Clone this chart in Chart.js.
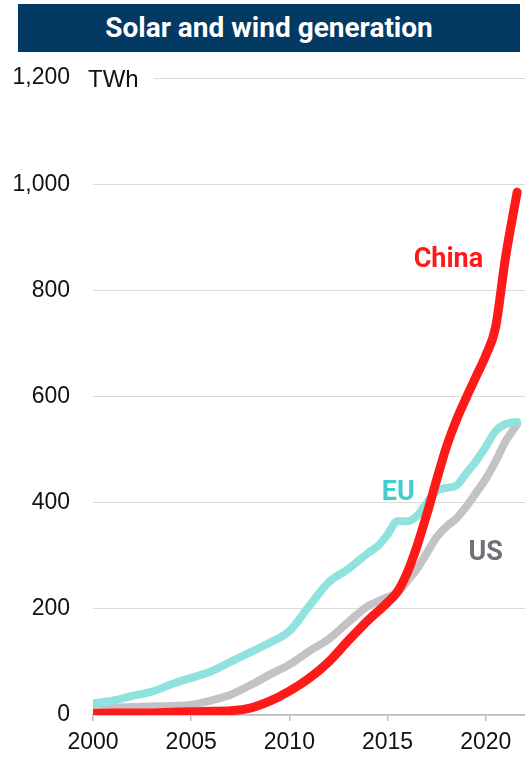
<!DOCTYPE html>
<html>
<head>
<meta charset="utf-8">
<script src="https://cdn.jsdelivr.net/npm/chart.js@4.4.0/dist/chart.umd.min.js"></script>
<style>
body{margin:0;background:#fff;width:525px;height:760px;overflow:hidden;position:relative}
#titulo{position:absolute;left:18px;top:4px;width:502px;height:48px;background:#023a64;color:#fff;font:bold 28px Roboto,sans-serif;text-align:center;line-height:48px}
#caixa{position:absolute;left:0;top:0;width:525px;height:760px}
</style>
</head>
<body>
<div id="caixa"><canvas id="myChart"></canvas></div>
<div id="titulo">Solar and wind generation</div>
<script>
// TWh, solar + wind
var anos  = [2000,2001,2002,2003,2004,2005,2006,2007,2008,2009,2010,2011,2012,2013,2014,2014.5,2015,2015.5,2016,2016.5,2017,2017.5,2018,2018.5,2019,2019.5,2020,2020.5,2021,2021.6]
var china = [3,4,4,4,5,6,7,8,13,26,45,69,100,140,178,195,212,232,268,318,378,443,505,555,597,637,677,730,860,985]
var eu    = [22,27,36,44,58,70,82,100,118,136,158,205,250,275,305,318,340,365,365,375,400,422,428,432,455,478,505,535,548,552]
var us    = [12,14,15,16,17,19,27,38,56,76,95,120,143,175,205,214,222,230,252,275,305,335,355,370,392,418,445,478,515,548]

var marcasY = [0,200,400,600,800,1000,1200]
var marcasX = [2000,2005,2010,2015,2020]

var rotulos = [
  {texto:'China', x:2018.1, y:844, cor:'#ff1a1a'},
  {texto:'EU', x:2015.55, y:405, cor:'#45cbc9'},
  {texto:'US', x:2020, y:292, cor:'#6f7377'}
]

function pontos(valores){
  return valores.map(function(v, i){ return {x: anos[i], y: v} })
}

var escritas = {
  id: 'escritas',
  beforeDatasetsDraw: function(chart){
    var ctx = chart.ctx
    var y = chart.scales.y
    ctx.save()
    // unit label sits over the top gridline
    ctx.fillStyle = '#fff'
    ctx.fillRect(86, y.getPixelForValue(1200) - 12, 68, 24)
    ctx.fillStyle = '#111'
    ctx.font = '24px "Liberation Sans", Arial, sans-serif'
    ctx.textBaseline = 'middle'
    ctx.textAlign = 'left'
    ctx.fillText('TWh', 88, y.getPixelForValue(1200) + 2)
    ctx.restore()
  },
  afterDatasetsDraw: function(chart){
    var ctx = chart.ctx
    ctx.save()
    ctx.font = 'bold 27px Roboto, sans-serif'
    ctx.textAlign = 'center'
    ctx.textBaseline = 'alphabetic'
    rotulos.forEach(function(r){
      ctx.fillStyle = r.cor
      ctx.fillText(r.texto, chart.scales.x.getPixelForValue(r.x), chart.scales.y.getPixelForValue(r.y))
    })
    ctx.restore()
  }
}

function linha(nome, valores, cor, largura){
  return {
    label: nome,
    data: pontos(valores),
    borderColor: cor,
    backgroundColor: cor,
    borderWidth: largura,
    borderCapStyle: 'round',
    borderJoinStyle: 'round',
    pointRadius: 0,
    cubicInterpolationMode: 'monotone',
    fill: false
  }
}

var ctx = document.getElementById('myChart').getContext('2d')
var chart = new Chart(ctx, {
  type: 'line',
  data: {
    datasets: [
      linha('China', china, '#ff1a1a', 9),
      linha('EU', eu, '#8fe2dd', 8),
      linha('US', us, '#c3c3c6', 8)
    ]
  },
  options: {
    responsive: true,
    maintainAspectRatio: false,
    animation: false,
    layout: {padding: {top: 78, left: 0, right: 0, bottom: 0}},
    plugins: {legend: {display: false}, tooltip: {enabled: false}},
    scales: {
      x: {
        type: 'linear',
        min: 2000,
        max: 2022,
        afterBuildTicks: function(s){ s.ticks = marcasX.map(function(v){ return {value: v} }) },
        afterFit: function(s){ s.height = 45 },
        border: {display: true, color: '#bdbdbd', width: 1.5},
        grid: {drawOnChartArea: false, drawTicks: true, tickLength: 6, color: '#bdbdbd', lineWidth: 1.5},
        ticks: {
          color: '#111',
          padding: 8,
          maxRotation: 0,
          font: {family: '"Liberation Sans", Arial, sans-serif', size: 23},
          callback: function(v){ return String(v) }
        }
      },
      y: {
        min: 0,
        max: 1200,
        afterBuildTicks: function(s){ s.ticks = marcasY.map(function(v){ return {value: v} }) },
        afterFit: function(s){ s.width = 93 },
        border: {display: false},
        grid: {color: '#dadada', lineWidth: 1, drawTicks: false},
        ticks: {
          color: '#111',
          padding: 23,
          font: {family: '"Liberation Sans", Arial, sans-serif', size: 23},
          callback: function(v){ return v.toLocaleString('en-US') }
        }
      }
    }
  },
  plugins: [escritas]
})
</script>
</body>
</html>
